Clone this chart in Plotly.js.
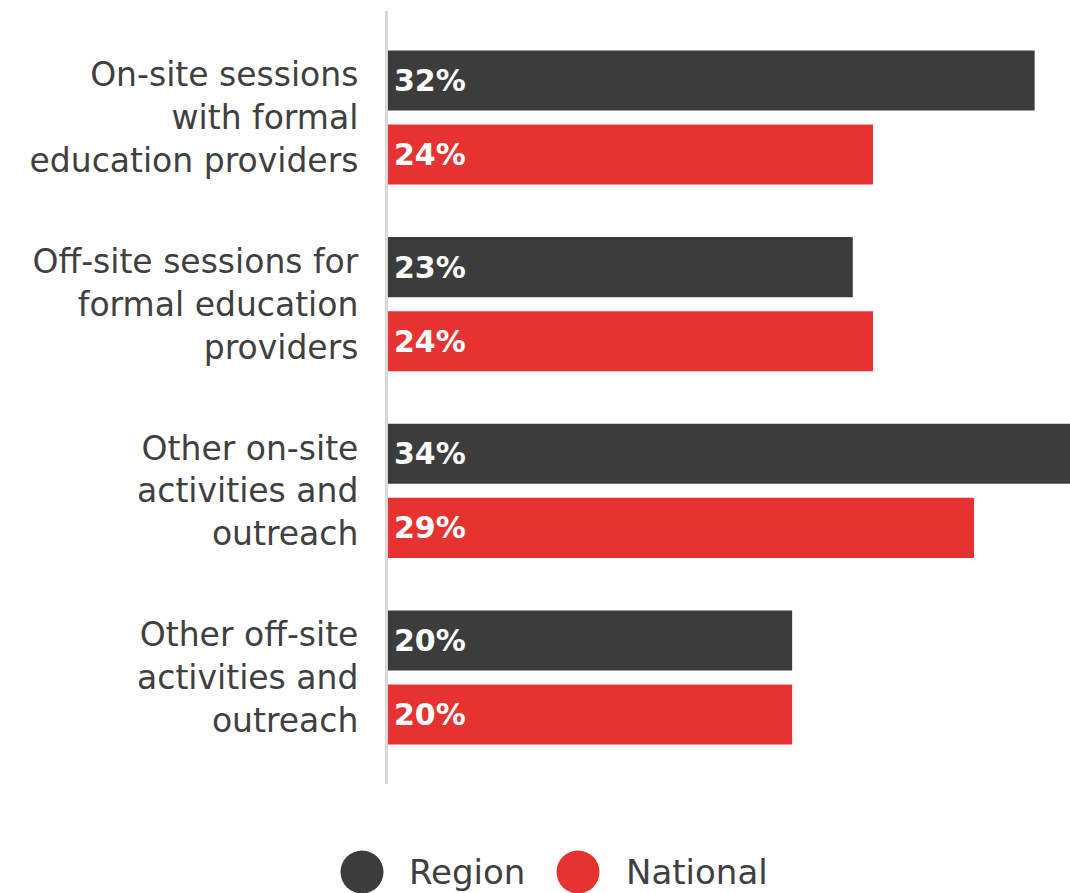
<!DOCTYPE html>
<html>
<head>
<meta charset="utf-8">
<script src="https://cdn.plot.ly/plotly-3.0.1.min.js"></script>
<style>html,body{margin:0;padding:0;background:#fff;}#chart{width:1070px;height:893px;}</style>
</head>
<body>
<div id="chart"></div>
<script>
const categories = [
  "On-site sessions<br>with formal<br>education providers",
  "Off-site sessions for<br>formal education<br>providers",
  "Other on-site<br>activities and<br>outreach",
  "Other off-site<br>activities and<br>outreach"
];
const regionValues = [32, 23, 34, 20];
const nationalValues = [24, 24, 29, 20];
const seriesNames = ["Region", "National"];
const seriesColors = ["#3c3c3c", "#e63332"];

const FONT = "DejaVu Sans, sans-serif";
const labelFont = {family: FONT, size: 30, color: "#ffffff", weight: "bold"};
const fmt = v => "\u200A" + v + "%";

const traces = [
  {
    type: "bar", orientation: "h", name: seriesNames[0],
    y: categories, x: regionValues,
    marker: {color: seriesColors[0]},
    text: regionValues.map(fmt), textposition: "inside",
    insidetextanchor: "start", textfont: labelFont, constraintext: "none",
    hoverinfo: "skip", showlegend: false, cliponaxis: true
  },
  {
    type: "bar", orientation: "h", name: seriesNames[1],
    y: categories, x: nationalValues,
    marker: {color: seriesColors[1]},
    text: nationalValues.map(fmt), textposition: "inside",
    insidetextanchor: "start", textfont: labelFont, constraintext: "none",
    hoverinfo: "skip", showlegend: false, cliponaxis: true
  }
];

const plotL = 388, plotR = 1070, plotT = 11, plotB = 784;
const pw = plotR - plotL, ph = plotB - plotT;
const px2x = p => (p - plotL) / pw;
const py2y = p => (plotB - p) / ph;

const legendY = py2y(872);
const shapes = [
  {type: "circle", xref: "paper", yref: "paper", xsizemode: "pixel", ysizemode: "pixel",
   xanchor: px2x(362), yanchor: legendY, x0: -21.5, x1: 21.5, y0: -21.5, y1: 21.5,
   fillcolor: seriesColors[0], line: {width: 0}},
  {type: "circle", xref: "paper", yref: "paper", xsizemode: "pixel", ysizemode: "pixel",
   xanchor: px2x(578), yanchor: legendY, x0: -21.5, x1: 21.5, y0: -21.5, y1: 21.5,
   fillcolor: seriesColors[1], line: {width: 0}}
];
const annotations = [
  {xref: "paper", yref: "paper", x: px2x(407), y: legendY, xanchor: "left", yanchor: "middle",
   text: seriesNames[0], showarrow: false, font: {family: FONT, size: 34, color: "#404040"}},
  {xref: "paper", yref: "paper", x: px2x(624), y: legendY, xanchor: "left", yanchor: "middle",
   text: seriesNames[1], showarrow: false, font: {family: FONT, size: 34, color: "#404040"}}
];

const layout = {
  width: 1070, height: 893,
  margin: {l: plotL, r: 1070 - plotR, t: plotT, b: 893 - plotB, pad: 0},
  paper_bgcolor: "#ffffff", plot_bgcolor: "#ffffff",
  barmode: "group", bargap: 0.207, bargroupgap: 0.189,
  showlegend: false,
  xaxis: {range: [0, 33.75], showgrid: false, zeroline: false, showticklabels: false, showline: false, fixedrange: true},
  yaxis: {
    type: "category", autorange: false, range: [3.57, -0.57],
    showgrid: false, zeroline: false, showline: true, linecolor: "#d9d9d9", linewidth: 3,
    ticks: "", ticklabelstandoff: 20,
    tickfont: {family: FONT, size: 33, color: "#404040"}
  },
  shapes: shapes,
  annotations: annotations,
  font: {family: FONT}
};

Plotly.newPlot("chart", traces, layout, {displayModeBar: false, staticPlot: true});
</script>
</body>
</html>
